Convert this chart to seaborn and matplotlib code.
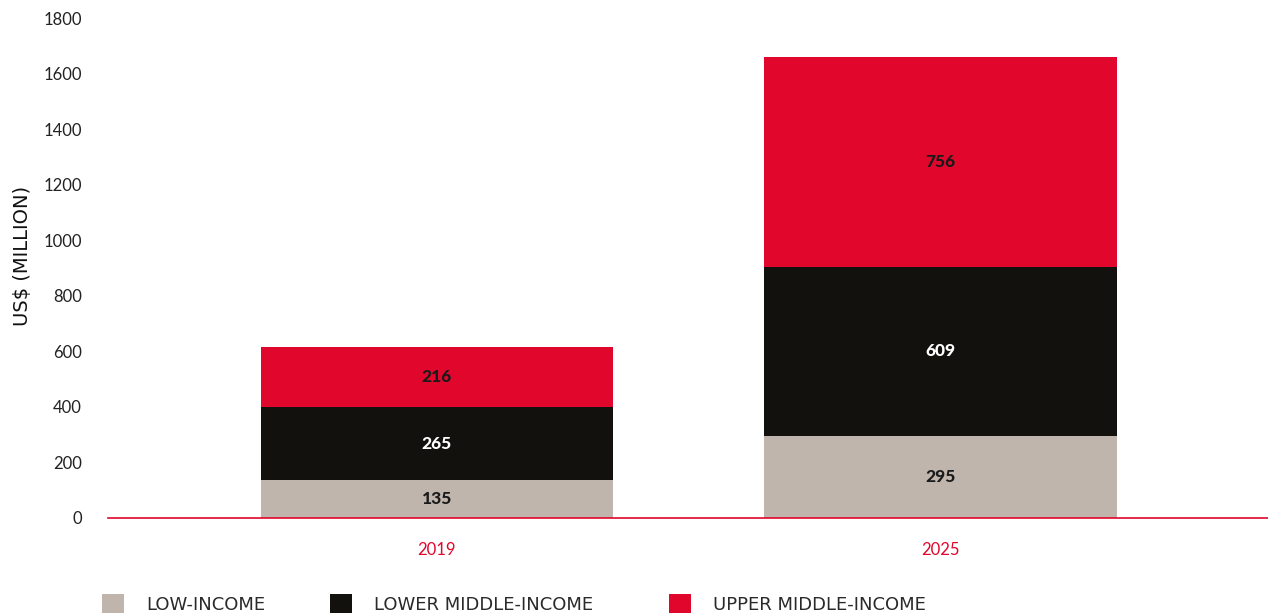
import matplotlib
matplotlib.use("Agg")
import matplotlib.pyplot as plt
import seaborn as sns
import pandas as pd
from matplotlib.patches import Patch

years = ["2019", "2025"]
segments = ["LOW-INCOME", "LOWER MIDDLE-INCOME", "UPPER MIDDLE-INCOME"]
low_income = [135, 295]
lower_middle = [265, 609]
upper_middle = [216, 756]
y_ticks = [0, 200, 400, 600, 800, 1000, 1200, 1400, 1600, 1800]

colors = ["#BFB5AC", "#12110D", "#E0062C"]
label_colors = ["#1a1a1a", "#ffffff", "#1a1a1a"]

sns.set_theme(style="white")
plt.rcParams["font.family"] = ["Lato", "DejaVu Sans"]

series = [low_income, lower_middle, upper_middle]
bottoms = [[0, 0]]
for s in series[:-1]:
    bottoms.append([b + v for b, v in zip(bottoms[-1], s)])
tops = [[b + v for b, v in zip(bt, s)] for bt, s in zip(bottoms, series)]

fig = plt.figure(figsize=(12.68, 6.13), dpi=100)
ax = fig.add_axes([0.0852, 0.155, 0.9148, 0.8156])

# stacked bars: draw cumulative totals from the top layer down
for i in reversed(range(len(series))):
    df = pd.DataFrame({"year": years, "value": tops[i]})
    sns.barplot(data=df, x="year", y="value", color=colors[i], saturation=1,
                width=0.7, ax=ax, linewidth=0)

for i, s in enumerate(series):
    for xi, (b, v) in enumerate(zip(bottoms[i], s)):
        ax.text(xi, b + v / 2, str(v), ha="center", va="center",
                color=label_colors[i], fontsize=12.5, fontweight="black")

ax.set_xlim(-0.653, 1.65)
ax.set_ylim(0, 1800)
ax.set_yticks(y_ticks)
ax.set_yticklabels([str(t) for t in y_ticks], fontsize=12, color="#222222")
ax.set_xlabel("")
ax.set_ylabel("US$ (MILLION)", fontsize=14, color="#111111",
              family=["DejaVu Sans"])
ax.yaxis.set_label_coords(-0.0655, 0.524)
ax.tick_params(axis="y", length=0, pad=19)
ax.tick_params(axis="x", length=0, pad=17, labelsize=12, labelcolor="#E0062C")
for side in ["top", "right", "left"]:
    ax.spines[side].set_visible(False)
ax.spines["bottom"].set_color("#E0062C")
ax.spines["bottom"].set_linewidth(1.2)
ax.grid(False)

# one legend entry per series, each anchored at its own x position
legend_x = [0.0787, 0.2585, 0.5259]
for name, c, lx in zip(segments, colors, legend_x):
    fig.legend([Patch(facecolor=c, edgecolor="none")], [name],
               loc="lower left", bbox_to_anchor=(lx, -0.004), frameon=False,
               handlelength=1.22, handleheight=1.22, handletextpad=1.25,
               borderaxespad=0, borderpad=0.1,
               prop={"family": ["DejaVu Sans"], "size": 13},
               labelcolor="#2a2a2a")

fig.savefig("out.png", dpi=100)
